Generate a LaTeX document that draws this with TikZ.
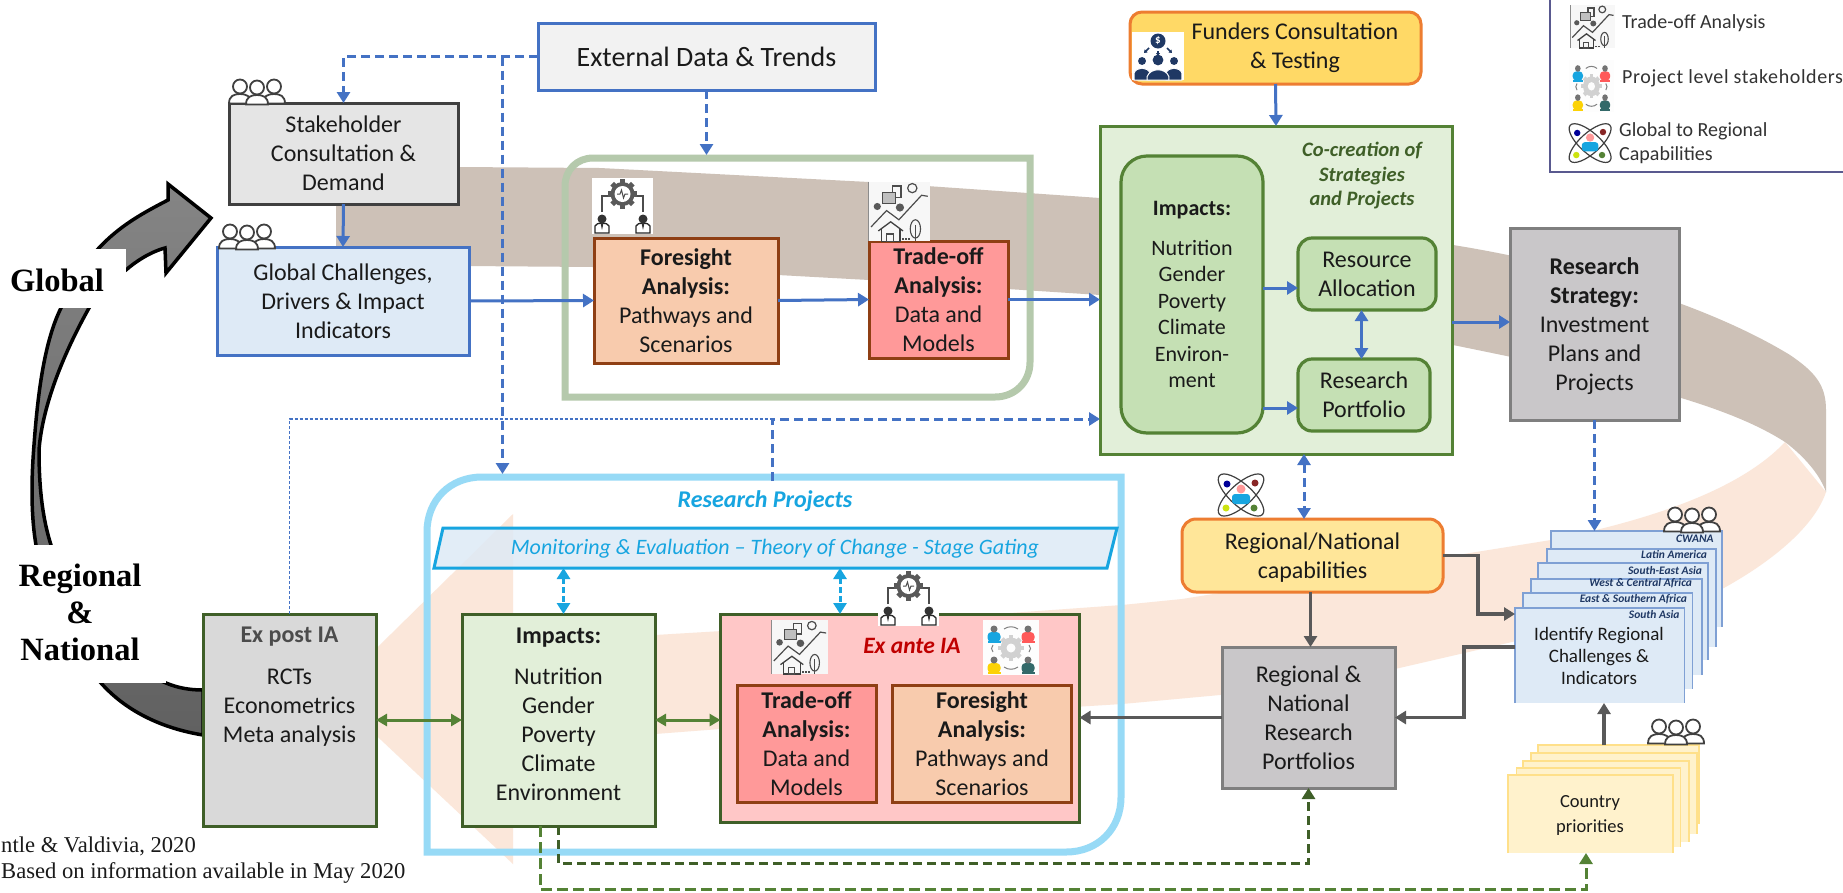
\documentclass[tikz,border=0pt]{standalone}
\usepackage{fontspec}
\setmainfont{Carlito}
\newfontfamily\serifcam{Liberation Serif}
\usetikzlibrary{arrows.meta,calc}
\definecolor{linkblue}{HTML}{4472C4}
\definecolor{brownband}{HTML}{CDC1B7}
\definecolor{peachband}{HTML}{FBE7DA}
\definecolor{framegreen}{HTML}{B5C9AC}
\definecolor{frameblue}{HTML}{97DAF6}
\definecolor{cyanline}{HTML}{17A5E0}
\definecolor{midgreen}{HTML}{548235}
\definecolor{darkgreen}{HTML}{3F5F28}
\definecolor{lightgreen}{HTML}{E2EFD9}
\definecolor{softgreen}{HTML}{C5E0B4}
\definecolor{rustline}{HTML}{8F3F14}
\definecolor{tradefill}{HTML}{FF9999}
\definecolor{foresightfill}{HTML}{F8CBAD}
\definecolor{exantefill}{HTML}{FFC7C7}
\definecolor{orangeline}{HTML}{ED7D31}
\definecolor{greyfill}{HTML}{C9C7C9}
\definecolor{greyline}{HTML}{7F7F7F}
\definecolor{darkgrey}{HTML}{595959}
\definecolor{paleblue}{HTML}{DEEAF6}
\definecolor{stackline}{HTML}{7FA0D4}
\definecolor{paleyellow}{HTML}{FFF2CC}
\definecolor{yellowline}{HTML}{FFE08A}
\definecolor{navyicon}{HTML}{1F3864}
\definecolor{inktext}{HTML}{1A1A1A}
\definecolor{fundfill}{HTML}{FFD966}
\definecolor{capfill}{HTML}{FFE699}
\tikzset{
  bxbase/.style={rectangle,align=center,inner sep=0pt,outer sep=0pt,text=inktext,font=\fontsize{24}{29}\selectfont},
  extbox/.style={bxbase,draw=linkblue,fill=black!5,line width=3pt},
  stakebox/.style={bxbase,draw=black!75,fill=black!10,line width=3pt},
  bluebox/.style={bxbase,draw=linkblue,fill=paleblue,line width=3pt},
  fsbox/.style={bxbase,draw=rustline,fill=foresightfill,line width=3pt},
  trbox/.style={bxbase,draw=rustline,fill=tradefill,line width=3pt},
  cocbox/.style={bxbase,draw=midgreen,fill=lightgreen,line width=3pt},
  softbox/.style={bxbase,draw=midgreen,fill=softgreen,line width=3.2pt,rounded corners=14pt},
  greybox/.style={bxbase,draw=greyline,fill=greyfill,line width=3pt},
  expostbox/.style={bxbase,draw=darkgreen,fill=black!15,line width=3pt},
  implowbox/.style={bxbase,draw=darkgreen,fill=lightgreen,line width=3pt},
  exantebox/.style={bxbase,draw=darkgreen,fill=exantefill,line width=3pt},
  fundbox/.style={bxbase,draw=orangeline,fill=fundfill,line width=3pt,rounded corners=12pt},
  capbox/.style={bxbase,draw=orangeline,fill=capfill,line width=3pt,rounded corners=14pt},
  sheetblue/.style={bxbase,fill=paleblue},
  sheetyellow/.style={bxbase,fill=paleyellow},
  sheetlabel/.style={inner sep=0pt,outer sep=0pt,anchor=east,text=navyicon,font=\fontsize{11.5}{12}\selectfont\bfseries\itshape},
  freetext/.style={inner sep=0pt,align=center,text=inktext,font=\fontsize{24}{29}\selectfont},
  legendtext/.style={inner sep=0pt,anchor=west,text=black!80,align=left,font=\fontsize{20}{23.5}\selectfont},
  bigscope/.style={inner sep=0pt,align=center,text=black,font=\fontsize{32.5}{37}\selectfont\serifcam\bfseries},
  srcnote/.style={inner sep=0pt,text=inktext,font=\fontsize{22.6}{26}\selectfont\serifcam},
  flow/.style={line width=3pt,draw=linkblue,-{Triangle[length=11pt,width=13pt,fill=linkblue]}},
  flowtwo/.style={line width=3pt,draw=linkblue,{Triangle[length=11pt,width=13pt,fill=linkblue]}-{Triangle[length=11pt,width=13pt,fill=linkblue]}},
  flowdash/.style={flow,dash pattern=on 9pt off 5pt},
  flowtwodash/.style={flowtwo,dash pattern=on 9pt off 5pt},
  cyantwo/.style={line width=3pt,draw=cyanline,dash pattern=on 6pt off 3pt,{Triangle[length=11pt,width=13pt,fill=cyanline]}-{Triangle[length=11pt,width=13pt,fill=cyanline]}},
  greentwo/.style={line width=3pt,draw=midgreen,{Triangle[length=11pt,width=12pt,fill=midgreen]}-{Triangle[length=11pt,width=12pt,fill=midgreen]}},
  greydark/.style={line width=3.5pt,draw=darkgrey,-{Triangle[length=11pt,width=13pt,fill=darkgrey]}},
  greendash/.style={line width=3pt,draw=darkgreen,dash pattern=on 9pt off 5pt,-{Triangle[length=11pt,width=13pt,fill=darkgreen]}},
  greendashb/.style={line width=3pt,draw=midgreen,dash pattern=on 11pt off 5pt,-{Triangle[length=11pt,width=13pt,fill=midgreen]}},
}
\newcommand\qgear[4]{%
  \foreach \gg in {0,45,...,315}{\fill[#4,rotate around={\gg:(#1,#2)}] ($(#1,#2)+(-0.22*#3,-1.22*#3)$) rectangle ($(#1,#2)+(0.22*#3,-0.7*#3)$);}
  \fill[#4] (#1,#2) circle [radius=#3*1pt];}
\newcommand\qpeople[3]{%
 \begin{scope}[shift={(#1,#2)},scale=#3]
  \foreach \px/\py in {11/0,45/0,28/1}{
   \draw[line width=1.8pt,draw=black!75,fill=white] (\px-11,24.5+\py) .. controls (\px-11,17+\py) and (\px-6,15+\py) .. (\px,15+\py) .. controls (\px+6,15+\py) and (\px+11,17+\py) .. (\px+11,24.5+\py) -- cycle;
   \draw[line width=1.8pt,draw=black!75,fill=white] (\px,7.5+\py) circle [radius=7pt];
  }
 \end{scope}}
\newcommand\qbiz[2]{%
  \draw[line width=1.3pt,draw=black!85,fill=white] (#1-7,#2+17) -- (#1-7,#2+10) .. controls (#1-6,#2+6) and (#1+6,#2+6) .. (#1+7,#2+10) -- (#1+7,#2+17) -- cycle;
  \fill[black!80] (#1-1.5,#2+7) -- (#1+1.5,#2+7) -- (#1,#2+14) -- cycle;
  \fill[black!80] (#1,#2+3) circle [radius=4.5pt];}
\newcommand\qforesight[3]{%
 \begin{scope}[shift={(#1,#2)},scale=#3]
  \fill[white] (0,0) rectangle (61,56);
  \draw[line width=1.3pt,draw=black!70] (10,34) -- (10,18) -- (17,18);
  \draw[line width=1.3pt,draw=black!70] (51,34) -- (51,18) -- (44,18);
  \qgear{30.5}{16}{12}{black!65}
  \fill[white] (30.5,16) circle [radius=8pt];
  \draw[line width=1pt,draw=black!70] (25,16) -- (28,16) -- (29.5,12) -- (31.5,20) -- (33,16) -- (36,16);
  \qbiz{10}{38}
  \qbiz{51}{38}
 \end{scope}}
\newcommand\qtrade[4]{%
 \begin{scope}[shift={(#1,#2)},xscale=#3,yscale=#4]
  \fill[black!3] (0,0) rectangle (60,58);
  \draw[line width=1pt,draw=black!45] (0,0) -- (0,58);
  \draw[line width=1.2pt,draw=black!70] (24,4) rectangle (32,15);
  \draw[line width=1.2pt,draw=black!70,fill=black!25] (14,10) rectangle (27,21);
  \draw[line width=1.2pt,draw=black!70] (43,6) circle [radius=4.5pt];
  \fill[black!65] (9,24) circle [radius=3.5pt];
  \fill[black!65] (31,25) circle [radius=4pt];
  \draw[line width=1.2pt,draw=black!70] (3,44) -- (18,28) -- (30,37) -- (52,13) -- (58,14);
  \draw[line width=1.3pt,draw=black!75] (10,48) -- (22,39) -- (34,48);
  \draw[line width=1.2pt,draw=black!75] (13,46) -- (13,58) -- (31,58) -- (31,46);
  \draw[line width=1.2pt,draw=black!70] (18,51) rectangle (25,58);
  \draw[line width=1.1pt,draw=black!70] (46,46) ellipse [x radius=5pt,y radius=9pt];
  \draw[line width=1.1pt,draw=black!70] (46,42) -- (46,58);
  \draw[line width=1.5pt,draw=black!70,dash pattern=on 2pt off 1pt] (33,56) -- (41,56);
 \end{scope}}
\newcommand\qstkperson[3]{%
  \fill[#3] (#1-6.5,#2+10) rectangle (#1+6.5,#2+8);
  \fill[#3,rounded corners=4pt] (#1-6.5,#2+9) rectangle (#1+6.5,#2-1);
  \fill[black!55] (#1,#2-4) circle [radius=3.5pt];}
\newcommand\qstake[4]{%
 \begin{scope}[shift={(#1,#2)},xscale=#3,yscale=#4]
  \fill[white!85!black!6] (0,0) rectangle (56,55);
  \qgear{28}{28}{10.5}{black!18}
  \fill[white!85!black!6] (28,28) circle [radius=4.5pt];
  \qstkperson{11}{13}{cyanline}
  \qstkperson{45}{13}{red!65!white}
  \qstkperson{11}{44}{yellow!70!orange}
  \qstkperson{45}{44}{black!30!teal!60!gray}
  \draw[line width=1pt,draw=black!50] (21,9) .. controls (25,6) and (31,6) .. (35,9);
  \draw[line width=1pt,draw=black!50] (21,47) .. controls (25,50) and (31,50) .. (35,47);
  \draw[line width=1pt,draw=black!50] (10,25) .. controls (8,27) and (8,30) .. (10,32);
  \draw[line width=1pt,draw=black!50] (46,25) .. controls (48,27) and (48,30) .. (46,32);
 \end{scope}}
\newcommand\qatom[3]{%
 \begin{scope}[shift={(#1,#2)},scale=#3]
  \draw[line width=1.2pt,draw=black!75,rotate around={42:(24,24)}] (24,24) ellipse [x radius=29pt,y radius=11pt];
  \draw[line width=1.2pt,draw=black!75,rotate around={-42:(24,24)}] (24,24) ellipse [x radius=29pt,y radius=11pt];
  \fill[blue!60!black] (10,13) circle [radius=3.5pt];
  \fill[red!45!black!85] (38,12) circle [radius=3.5pt];
  \fill[yellow!80!green] (9,37) circle [radius=3.5pt];
  \fill[midgreen] (37,37) circle [radius=3.5pt];
  \fill[cyanline,rounded corners=3pt] (15,33) rectangle (33,23);
  \fill[red!40!white] (24,18) circle [radius=4.5pt];
 \end{scope}}
\newcommand\qfundperson[3]{%
  \fill[navyicon] (#1,#2) circle [radius=#3*0.72pt];
  \draw[line width=1pt,draw=white,fill=navyicon] (#1-#3*1.45,48) -- (#1-#3*1.45,#2+#3*2.2) .. controls (#1-#3,#2+#3) and (#1+#3,#2+#3) .. (#1+#3*1.45,#2+#3*2.2) -- (#1+#3*1.45,48) -- cycle;}
\begin{document}
\begin{tikzpicture}[x=1pt,y=-1pt]
\useasboundingbox (0,0) rectangle (1843,892);
\fill[white] (0,0) rectangle (1843,892);
% helper coordinates
\coordinate (jext) at (502.5,56.5);
\coordinate (rpTop) at (502.5,474);
\coordinate (frameTop) at (706.5,155);
\coordinate (thinTurn) at (289.5,419);
\coordinate (thickStart) at (772,481);
\coordinate (thickTurn) at (772,419);
\coordinate (rA) at (1280,288);
\coordinate (rB) at (1280,408);
\coordinate (rC) at (1361.5,330);
\coordinate (rD) at (1480,322);
\coordinate (meA) at (563.5,568);
\coordinate (meB) at (840,568);
\coordinate (capX) at (1304,480);
\coordinate (capY) at (1310.5,620);
\coordinate (jogB) at (1478,614);
\coordinate (jogC) at (1464,647);
\coordinate (cntX) at (1604,720);
\coordinate (gdA) at (558,863);
\coordinate (gdB) at (540.5,889.5);
\coordinate (gdC) at (1586,853);
% bands
\fill[peachband] (1785,442) .. controls (1740,490) and (1650,520) .. (1551,540) -- (1445,557) -- (1182,599) -- (1122,605) -- (940,618) -- (655,635) -- (513,645) -- (513,514) -- (331,693) -- (513,864) -- (513,745) -- (655,734) -- (720,729) -- (1122,704) -- (1220,695) -- (1395,669) -- (1512,642) -- (1722,589) .. controls (1775,560) and (1815,525) .. (1826,492) -- cycle;
\fill[brownband] (336,167) -- (458,167) -- (600,168) -- (869,182) -- (1100,198) -- (1453,245) .. controls (1560,262) and (1700,300) .. (1790,355) .. controls (1815,372) and (1826,385) .. (1826,410) -- (1826,492) .. controls (1820,475) and (1805,457) .. (1785,442) .. controls (1720,400) and (1600,375) .. (1453,345) -- (1100,295) -- (869,280) -- (778,275) -- (593,267) -- (336,265) -- cycle;
% big grey arrow
\draw[line width=3.5pt,draw=black,top color=black!48,bottom color=black!62,line join=miter] (203,735) .. controls (160,728) and (125,710) .. (101,683) .. controls (70,650) and (40,600) .. (36,545) .. controls (30,510) and (32,470) .. (34,445) .. controls (38,390) and (45,340) .. (61,308) .. controls (70,285) and (85,262) .. (98,249) .. controls (120,225) and (145,212) .. (168,200) -- (168,184) -- (211,218) -- (166,273) -- (165,248) .. controls (150,252) and (135,262) .. (126,270) .. controls (110,280) and (98,295) .. (89,308) .. controls (60,360) and (42,410) .. (39,450) .. controls (39,490) and (43,520) .. (51,545) .. controls (70,620) and (120,665) .. (166,683) .. controls (178,688) and (190,690) .. (203,690) -- cycle;
\fill[white] (0,249) rectangle (126,308);
\fill[white] (0,545) rectangle (166,683);
\node[bigscope] (lblglobal) at (57,280) {Global};
\node[bigscope] (lblregional) at (80,612) {Regional\\[0pt]\&\\[0pt]National};
% frames
\draw[line width=7pt,draw=framegreen] (565,397) -- (565,186) .. controls (565,170) and (577,158) .. (593,158) -- (1030,158) -- (1030,362) .. controls (1030,382) and (1015,397) .. (995,397) -- cycle;
\draw[line width=7pt,draw=frameblue] (427,852) -- (427,532) .. controls (427,500) and (450,477) .. (482,477) -- (1121,477) -- (1121,797) .. controls (1121,829) and (1098,852) .. (1066,852) -- cycle;
% M&E
\draw[line width=3pt,draw=cyanline,fill=paleblue,fill opacity=0.85] (443,528) -- (1117,528) -- (1107,568) -- (434,568) -- cycle;
\node[inner sep=0pt,text=cyanline,font=\fontsize{22}{24}\selectfont\itshape] (metext) at (775,549) {Monitoring \& Evaluation – Theory of Change - Stage Gating};
\node[inner sep=0pt,text=cyanline,font=\fontsize{24}{26}\selectfont\bfseries\itshape] (rptext) at (765,501) {Research Projects};
% boxes top
\node[extbox,minimum width=337pt,minimum height=67pt,font=\fontsize{28}{32}\selectfont] (external) at (706.5,56.5) {External Data \& Trends};
\node[stakebox,minimum width=229pt,minimum height=101pt] (stake) at (343.5,153.5) {Stakeholder\\Consultation \&\\Demand};
\node[bluebox,minimum width=252pt,minimum height=108pt] (global) at (343,301) {Global Challenges,\\Drivers \& Impact\\Indicators};
\node[fsbox,minimum width=184pt,minimum height=125pt] (foresight) at (686,300.5) {\textbf{Foresight}\\\textbf{Analysis:}\\Pathways and\\Scenarios};
\node[trbox,minimum width=139pt,minimum height=117pt] (trade) at (938.5,299.5) {\textbf{Trade-off}\\\textbf{Analysis:}\\Data and\\Models};
\node[cocbox,minimum width=352pt,minimum height=328pt] (cocreate) at (1276,290) {};
\node[softbox,rounded corners=26pt,minimum width=142pt,minimum height=277pt,font=\fontsize{22}{26.5}\selectfont] (topimp) at (1192,294.5) {\textbf{Impacts:}\\[13pt]Nutrition\\Gender\\Poverty\\Climate\\Environ-\\ment};
\node[inner sep=0pt,align=center,text=darkgreen,font=\fontsize{20.5}{24.5}\selectfont\bfseries\itshape] (coctext) at (1362,176) {Co-creation of\\Strategies\\and Projects};
\node[softbox,minimum width=138pt,minimum height=72pt] (resource) at (1367,274) {Resource\\Allocation};
\node[softbox,minimum width=132pt,minimum height=72pt] (portfolio) at (1364,395) {Research\\Portfolio};
\node[fundbox,minimum width=291pt,minimum height=72pt] (funders) at (1275.5,48) {};
\node[freetext] (fundtext) at (1295,48) {Funders Consultation\\\& Testing};
\node[greybox,minimum width=169pt,minimum height=192pt] (strategy) at (1594.5,324) {};
\node[freetext] (strattext) at (1594.5,326) {\textbf{Research}\\\textbf{Strategy:}\\Investment\\Plans and\\Projects};
% lower boxes
\node[expostbox,minimum width=173pt,minimum height=212pt] (expost) at (289.5,720) {};
\node[freetext] (eptext) at (289.5,686.5) {\textcolor{black!70}{\textbf{Ex post IA}}\\[13.5pt]RCTs\\Econometrics\\Meta analysis};
\node[implowbox,minimum width=193pt,minimum height=212pt] (implow) at (558.5,720) {};
\node[freetext] (iltext) at (558.5,714) {\textbf{Impacts:}\\[12pt]Nutrition\\Gender\\Poverty\\Climate\\Environment};
\node[exantebox,minimum width=359pt,minimum height=208pt] (exante) at (900,718) {};
\node[inner sep=0pt,text=red!75!black,font=\fontsize{23.5}{26}\selectfont\bfseries\itshape] (eatext) at (912,646) {Ex ante IA};
\node[trbox,minimum width=139pt,minimum height=117pt] (trade2) at (806.5,743.5) {\textbf{Trade-off}\\\textbf{Analysis:}\\Data and\\Models};
\node[fsbox,minimum width=179pt,minimum height=117pt] (foresight2) at (982,743.5) {\textbf{Foresight}\\\textbf{Analysis:}\\Pathways and\\Scenarios};
\node[capbox,minimum width=261pt,minimum height=73pt] (regcap) at (1312.5,555.5) {};
\node[freetext] (captext) at (1312.5,557.5) {Regional/National\\capabilities};
\node[greybox,minimum width=173pt,minimum height=141pt] (regnat) at (1308.5,717.5) {Regional \&\\National\\Research\\Portfolios};
% blue sheets
\foreach \sn/\sx/\sy/\sw/\sh in {s1/1636.5/579/171/96,s2/1631.5/598/169/98,s3/1623/611.5/170/97,s4/1616.5/627/171/96,s5/1607.75/641/169.5/96,s6/1599.75/655.5/169.5/95}{
  \node[sheetblue,minimum width=\sw pt,minimum height=\sh pt] (\sn) at (\sx,\sy) {};
  \draw[line width=1.2pt,draw=stackline] (\sn.south west) -- (\sn.north west) -- (\sn.north east) -- (\sn.south east);
}
\node[freetext,font=\fontsize{19}{22}\selectfont] (s6text) at (1599,656) {Identify Regional\\Challenges \&\\Indicators};
\node[sheetlabel] (l1) at (1713.5,539) {CWANA};
\node[sheetlabel] (l2) at (1707,554) {Latin America};
\node[sheetlabel] (l3) at (1702,570) {South-East Asia};
\node[sheetlabel] (l4) at (1692,583) {West \& Central Africa};
\node[sheetlabel] (l5) at (1687,599) {East \& Southern Africa};
\node[sheetlabel] (l6) at (1679.5,614) {South Asia};
% yellow sheets
\foreach \yn/\yx/\yy/\yw/\yh in {c1/1618.5/784.5/161/79,c2/1614/793.5/166/81,c3/1606/801.5/166/81,c4/1598.5/807.5/164/79,c5/1590.5/814/165/78}{
  \node[sheetyellow,minimum width=\yw pt,minimum height=\yh pt] (\yn) at (\yx,\yy) {};
  \draw[line width=1.2pt,draw=yellowline] (\yn.south west) -- (\yn.north west) -- (\yn.north east) -- (\yn.south east);
}
\node[freetext,font=\fontsize{18.5}{25}\selectfont] (c5text) at (1590,815.5) {Country\\priorities};
% connectors
\draw[flowdash] (external.west) -| (stake.north);
\draw[flowdash] (jext) -- (rpTop);
\draw[flow] (stake.south) -- (global.north);
\draw[flow] (global.east) -- (foresight.west);
\draw[flowdash] (external.south) -- (frameTop);
\draw[flow] (foresight.east) -- (trade.west);
\draw[flow] (trade.east) -- (trade.east -| cocreate.west);
\draw[flow] (funders.south) -- (cocreate.north);
\draw[flow] (topimp.east |- rA) -- (resource.west |- rA);
\draw[flow] (topimp.east |- rB) -- (portfolio.west |- rB);
\draw[flowtwo] (resource.south -| rC) -- (portfolio.north -| rC);
\draw[flow] (cocreate.east |- rD) -- (strategy.west |- rD);
\draw[flowdash] (strategy.south) -- (s1.north -| strategy.south);
\draw[line width=1.5pt,draw=linkblue,dash pattern=on 3pt off 2pt] (expost.north) -- (thinTurn) -- (thickTurn);
\draw[flowdash] (thickStart) -- (thickTurn) -- (thickTurn -| cocreate.west);
\draw[flowtwodash] (cocreate.south -| capX) -- (regcap.north -| capX);
\draw[cyantwo] (meA) -- (implow.north -| meA);
\draw[cyantwo] (meB) -- (exante.north -| meB);
\draw[greentwo] (expost.east) -- (implow.west);
\draw[greentwo] (implow.east) -- (exante.west |- implow.east);
\draw[greydark] (regcap.south -| capY) -- (regnat.north -| capY);
\draw[greydark] (regnat.west) -- (exante.east |- regnat.west);
\draw[greydark] (regcap.east) -| (jogB) -- (s6.west |- jogB);
\draw[greydark] (s6.west |- jogC) -- (jogC) |- (regnat.east);
\draw[greydark] (c1.north -| cntX) -- (s6.south -| cntX);
\draw[greendash] (implow.south -| gdA) -- (gdA) -| (regnat.south);
\draw[greendashb] (implow.south -| gdB) -- (gdB) -| (gdC);
% legend
\draw[line width=1.5pt,draw=black!30!blue!30!gray] (1550,0) -- (1550,172) -- (1843,172);
\node[legendtext] (lg1) at (1622,23) {Trade-off Analysis};
\node[legendtext] (lg2) at (1622,78) {\addfontfeature{LetterSpace=3}Project level stakeholders};
\node[legendtext] (lg3) at (1619,143) {Global to Regional\\Capabilities};
% icons
\qpeople{229}{79}{1}
\qpeople{219}{224}{1}
\qpeople{1664}{507}{1}
\qpeople{1648}{719}{1}
\qforesight{592}{178}{1}
\qtrade{868}{182}{1.03}{1.02}
\qforesight{878}{570}{1}
\qtrade{771}{620}{0.95}{0.93}
\qstake{983}{620}{1}{1}
\qtrade{1570}{5}{0.75}{0.74}
\qstake{1569}{60}{0.8}{0.94}
\qatom{1568}{121}{0.92}
\qatom{1217}{471}{1}
\begin{scope}[shift={(1132,32)}]
  \fill[white] (0,0) rectangle (52,48);
  \fill[navyicon] (26,9) circle [radius=7.5pt];
  \node[inner sep=0pt,text=white,font=\fontsize{11}{12}\selectfont\bfseries] (dollar) at (26,9) {\$};
  \draw[line width=1.5pt,draw=navyicon,-{Triangle[length=3pt,width=4pt]}] (17,16) -- (12,21);
  \draw[line width=1.5pt,draw=navyicon,-{Triangle[length=3pt,width=4pt]}] (26,19) -- (26,24);
  \draw[line width=1.5pt,draw=navyicon,-{Triangle[length=3pt,width=4pt]}] (35,16) -- (40,21);
  \qfundperson{10}{29}{5.5}
  \qfundperson{42}{29}{5.5}
  \qfundperson{26}{28}{7.5}
\end{scope}
% source note
\node[srcnote,anchor=west] (src1) at (1,846) {ntle \& Valdivia, 2020};
\node[srcnote,anchor=west] (src2) at (1,873) {Based on information available in May 2020};
\end{tikzpicture}
\end{document}
